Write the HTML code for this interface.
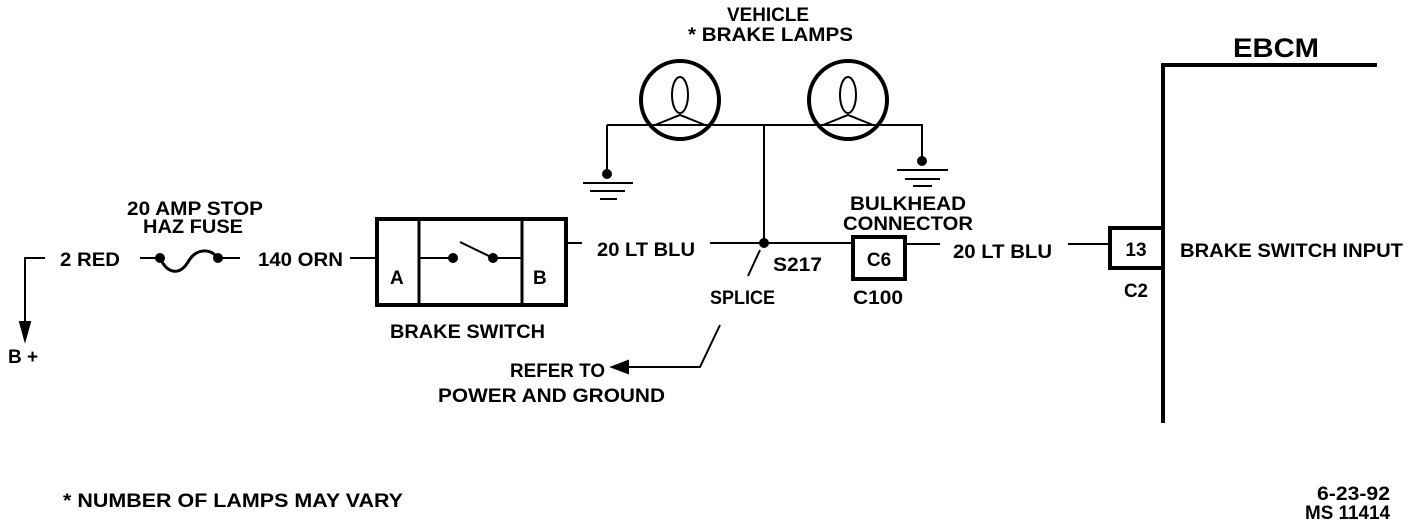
<!DOCTYPE html>
<html><head><style>
html,body{margin:0;padding:0;background:#fff;}
svg{display:block;}
text{font-family:"Liberation Sans",sans-serif;font-weight:bold;font-size:19px;fill:#000;}
</style></head><body>
<svg width="1424" height="530" viewBox="0 0 1424 530" xmlns="http://www.w3.org/2000/svg">
<g stroke="#000" fill="none" stroke-width="2">
<polyline points="45,258 25,258 25,332"/>
<polygon points="20,322 30,322 25,340" fill="#000"/>
<line x1="140" y1="258" x2="160" y2="258"/>
<path d="M160,258 C168,275 180,275 188,262 C196,248 210,248 218,258" stroke-width="3"/>
<line x1="218" y1="258" x2="240" y2="258"/>
<line x1="350" y1="258" x2="377" y2="258"/>
<rect x="377" y="219" width="189" height="86" stroke-width="4"/>
<line x1="419" y1="219" x2="419" y2="305" stroke-width="3"/>
<line x1="522" y1="219" x2="522" y2="305" stroke-width="3"/>
<line x1="419" y1="258" x2="453" y2="258"/>
<line x1="493" y1="258" x2="522" y2="258"/>
<line x1="460" y1="242" x2="493" y2="258"/>
<line x1="566" y1="243" x2="582" y2="243"/>
<line x1="710" y1="243" x2="852" y2="243"/>
<circle cx="680" cy="100" r="39" stroke-width="4"/>
<ellipse cx="680" cy="95" rx="8" ry="18"/>
<polyline points="655,125 680,115 705,125"/>
<circle cx="848" cy="100" r="39" stroke-width="4"/>
<ellipse cx="848" cy="95" rx="8" ry="18"/>
<polyline points="823,125 848,115 873,125"/>
<line x1="607" y1="125" x2="923" y2="125"/>
<line x1="764" y1="125" x2="764" y2="243"/>
<line x1="607" y1="125" x2="607" y2="173"/>
<line x1="583" y1="183" x2="633" y2="183"/>
<line x1="590" y1="191" x2="625" y2="191"/>
<line x1="600" y1="199" x2="617" y2="199"/>
<line x1="922" y1="125" x2="922" y2="161"/>
<line x1="897" y1="170" x2="948" y2="170"/>
<line x1="905" y1="179" x2="940" y2="179"/>
<line x1="913" y1="186" x2="932" y2="186"/>
<line x1="748" y1="276" x2="760" y2="250"/>
<rect x="853" y="237" width="52" height="42" stroke-width="4"/>
<line x1="905" y1="244" x2="940" y2="244"/>
<line x1="1068" y1="244" x2="1109" y2="244"/>
<polyline points="1377,65 1163,65 1163,423" stroke-width="4"/>
<rect x="1110" y="228" width="53" height="40" stroke-width="4"/>
<polyline points="720,325 700,367 625,367"/>
<polygon points="612,367 628,361 628,373" fill="#000"/>
</g>
<g fill="#000">
<circle cx="160" cy="258" r="5"/><circle cx="218" cy="258" r="5"/>
<circle cx="453" cy="258" r="5"/><circle cx="493" cy="258" r="5"/>
<circle cx="764" cy="243" r="5"/>
<circle cx="607" cy="174" r="5"/><circle cx="922" cy="161" r="5"/>
</g>
<g lengthAdjust="spacingAndGlyphs">
<text x="727" y="21" textLength="82" lengthAdjust="spacingAndGlyphs">VEHICLE</text>
<text x="688" y="41" textLength="165" lengthAdjust="spacingAndGlyphs">* BRAKE LAMPS</text>
<text x="1233" y="57" style="font-size:27px" textLength="86" lengthAdjust="spacingAndGlyphs">EBCM</text>
<text x="127" y="215" textLength="136" lengthAdjust="spacingAndGlyphs">20 AMP STOP</text>
<text x="143" y="233" textLength="100" lengthAdjust="spacingAndGlyphs">HAZ FUSE</text>
<text x="60" y="266" textLength="60" lengthAdjust="spacingAndGlyphs">2 RED</text>
<text x="258" y="266" textLength="85" lengthAdjust="spacingAndGlyphs">140 ORN</text>
<text x="390" y="284">A</text>
<text x="533" y="284">B</text>
<text x="390" y="338" textLength="155" lengthAdjust="spacingAndGlyphs">BRAKE SWITCH</text>
<text x="597" y="256" textLength="98" lengthAdjust="spacingAndGlyphs">20 LT BLU</text>
<text x="773" y="271" textLength="49" lengthAdjust="spacingAndGlyphs">S217</text>
<text x="710" y="304" textLength="65" lengthAdjust="spacingAndGlyphs">SPLICE</text>
<text x="850" y="210" textLength="116" lengthAdjust="spacingAndGlyphs">BULKHEAD</text>
<text x="843" y="230" textLength="130" lengthAdjust="spacingAndGlyphs">CONNECTOR</text>
<text x="879" y="266" text-anchor="middle">C6</text>
<text x="853" y="304" textLength="50" lengthAdjust="spacingAndGlyphs">C100</text>
<text x="953" y="258" textLength="99" lengthAdjust="spacingAndGlyphs">20 LT BLU</text>
<text x="1136" y="256" text-anchor="middle">13</text>
<text x="1124" y="297" textLength="24" lengthAdjust="spacingAndGlyphs">C2</text>
<text x="1180" y="257" textLength="223" lengthAdjust="spacingAndGlyphs">BRAKE SWITCH INPUT</text>
<text x="510" y="377" textLength="95" lengthAdjust="spacingAndGlyphs">REFER TO</text>
<text x="438" y="402" textLength="227" lengthAdjust="spacingAndGlyphs">POWER AND GROUND</text>
<text x="8" y="363">B +</text>
<text x="63" y="507" textLength="340" lengthAdjust="spacingAndGlyphs">* NUMBER OF LAMPS MAY VARY</text>
<text x="1317" y="500" textLength="73" lengthAdjust="spacingAndGlyphs">6-23-92</text>
<text x="1305" y="519" textLength="85" lengthAdjust="spacingAndGlyphs">MS 11414</text>
</g>
</svg>
</body></html>
